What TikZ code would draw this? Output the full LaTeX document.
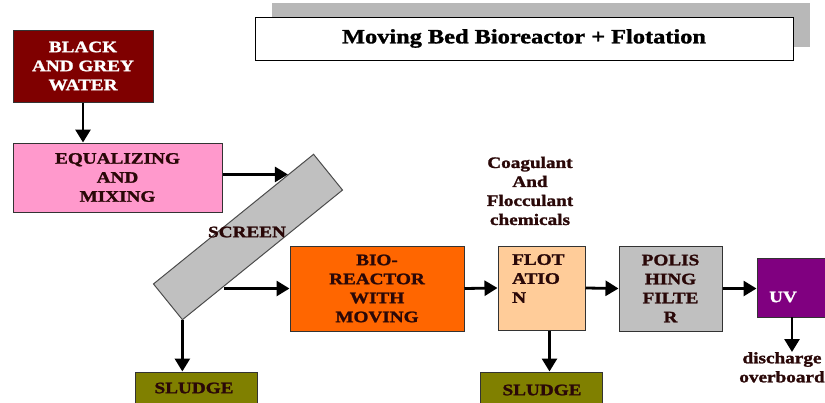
\documentclass[tikz,border=0pt]{standalone}
\usepackage{fontspec}
\setmainfont{Liberation Serif}[FakeStretch=1.2, BoldFeatures={FakeBold=1.5}]
\usetikzlibrary{arrows.meta,calc}
\definecolor{dred}{HTML}{7F0000}
\definecolor{pinkb}{HTML}{FF99CC}
\definecolor{greyb}{HTML}{C0C0C0}
\definecolor{orangeb}{HTML}{FF6600}
\definecolor{peachb}{HTML}{FFCC99}
\definecolor{oliveb}{HTML}{808000}
\definecolor{purpleb}{HTML}{800080}
\definecolor{txtd}{HTML}{2A0808}
\definecolor{shadowg}{HTML}{B8B8B8}
\tikzset{
  box/.style={draw=black!80, line width=1pt, inner sep=0pt, font=\bfseries\fontsize{16}{19}\selectfont, text=txtd, align=center},
  arr/.style={draw=black, line width=2.8pt, -{Triangle[length=13pt,width=15pt]}},
  lbl/.style={inner sep=0pt, font=\bfseries\fontsize{16}{19}\selectfont, text=txtd, align=center}
}
\begin{document}
\begin{tikzpicture}[x=1pt,y=-1pt]
\useasboundingbox (0,0) rectangle (825,402);
% title
\fill[shadowg] (272,3) rectangle (810,47);
\node[draw=black, line width=1pt, fill=white, minimum width=538pt, minimum height=43pt, inner sep=0pt,
  font=\bfseries\fontsize{20.3}{22}\selectfont] (title) at (524,38.5) {Moving Bed Bioreactor + Flotation};
% boxes
\node[box, fill=dred, text=white, minimum width=140pt, minimum height=72pt] (bw) at (83,66) {BLACK\\AND GREY\\WATER};
\node[box, fill=pinkb, minimum width=209pt, minimum height=69pt] (eq) at (117.5,177.5) {EQUALIZING\\AND\\MIXING};
\node[draw=black!70, line width=1pt, fill=greyb, rotate=39, minimum width=206pt, minimum height=46pt, inner sep=0pt] (scr) at (248,237) {};
\node[lbl] (scrl) at (247,232) {SCREEN};
\node[box, fill=orangeb, minimum width=174pt, minimum height=85pt] (bio) at (377,288.5) {BIO-\\REACTOR\\WITH\\MOVING};
\node[box, fill=peachb, minimum width=87pt, minimum height=84pt] (flot) at (541.5,288) {};
\node[lbl, anchor=north west, align=left] (flott) at (512,254) {FLOT\\ATIO\\N};
\node[box, fill=greyb, minimum width=103pt, minimum height=85pt] (pol) at (670.5,288.5) {POLIS\\HING\\FILTE\\R};
\node[box, fill=purpleb, text=white, minimum width=72pt, minimum height=59pt] (uv) at (793,287.5) {};
\node[lbl, text=white] (uvt) at (783,297) {UV};
\node[box, fill=oliveb, minimum width=122pt, minimum height=40pt] (sl1) at (196,392) {};
\node[lbl] (sl1t) at (194,388) {SLUDGE};
\node[box, fill=oliveb, minimum width=122pt, minimum height=40pt] (sl2) at (541,392) {};
\node[lbl] (sl2t) at (542,390) {SLUDGE};
\node[lbl] (chem) at (530,191) {Coagulant\\And\\Flocculant\\chemicals};
\node[lbl, anchor=north] (dis) at (782,352) {discharge\\overboard};
% connector points
\coordinate (s1) at ($(scr.north west)!0.84!(scr.north east)$);
\coordinate (s2) at ($(scr.south west)!0.26!(scr.south east)$);
% arrows
\draw[arr] (bw.south) -- (bw.south |- eq.north);
\draw[arr] (eq.east |- s1) -- (s1);
\draw[arr] (s2 |- bio.west) -- (bio.west);
\draw[arr] (scr.south west) -- (scr.south west |- sl1.north);
\draw[arr] (bio.east) -- (flot.west);
\draw[arr] (flot.east) -- (pol.west);
\draw[arr] (pol.east) -- (pol.east -| uv.west);
\draw[arr] ([xshift=8pt]flot.south) -- ([xshift=8pt]flot.south |- sl2.north);
\coordinate (uvb) at (792,317);
\draw[arr] (uvb) -- (dis.north -| uvb);
\end{tikzpicture}
\end{document}
